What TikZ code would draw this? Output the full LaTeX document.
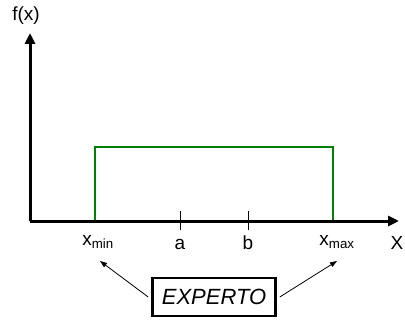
\documentclass[tikz,border=0pt]{standalone}
\usepackage{fontspec}
\setmainfont{Liberation Sans}
\usetikzlibrary{arrows.meta, positioning}

\begin{document}
\begin{tikzpicture}[
  x=1pt, y=-1pt,
  axis/.style={line width=3pt, -{Triangle[length=11pt, width=10pt]}},
  tick/.style={line width=1pt},
  lbl/.style={font=\fontsize{19}{21}\selectfont, inner sep=1pt},
  box/.style={draw, line width=2.6pt, inner sep=4pt, minimum height=38pt,
    minimum width=123pt, font=\fontsize{22}{26}\selectfont\itshape},
  arr/.style={-{Triangle[length=7pt, width=5pt]}, line width=0.8pt}
]
\useasboundingbox (0,0) rectangle (405,321);

% axes
\coordinate (orig) at (30,221);
\coordinate (ytop) at (30,33);
\coordinate (xend) at (399,221);
\draw[axis] (orig) -- (ytop);
\draw[axis] (orig) -- (xend);
\node[lbl] (fx) at (26,16) {f(x)};
\node[lbl] (xlab) at (397,243) {X};

% uniform density
\coordinate (p1) at (95,221);
\coordinate (p2) at (95,147);
\coordinate (p3) at (333,147);
\coordinate (p4) at (333,221);
\draw[green!50!black, line width=2pt] (p1) -- (p2) -- (p3) -- (p4);
\draw[line width=3pt] (orig) -- (380,221);

% ticks
\coordinate (ta) at (180,221);
\coordinate (tb) at (248,221);
\draw[tick] ([yshift=-9pt]ta) -- ([yshift=10pt]ta);
\draw[tick] ([yshift=-9pt]tb) -- ([yshift=10pt]tb);
\node[lbl] (xmin) at (98,242) {x\textsubscript{min}};
\node[lbl] (a) at (180,244) {a};
\node[lbl] (b) at (248,243) {b};
\node[lbl] (xmax) at (337,242) {x\textsubscript{max}};

% expert
\node[box] (exp) at (214,297) {EXPERTO};
\coordinate (amin) at (100,261);
\coordinate (amax) at (337,261);
\draw[arr] ([xshift=-3pt]exp.west) -- (amin);
\draw[arr] ([xshift=3pt]exp.east) -- (amax);
\end{tikzpicture}
\end{document}
